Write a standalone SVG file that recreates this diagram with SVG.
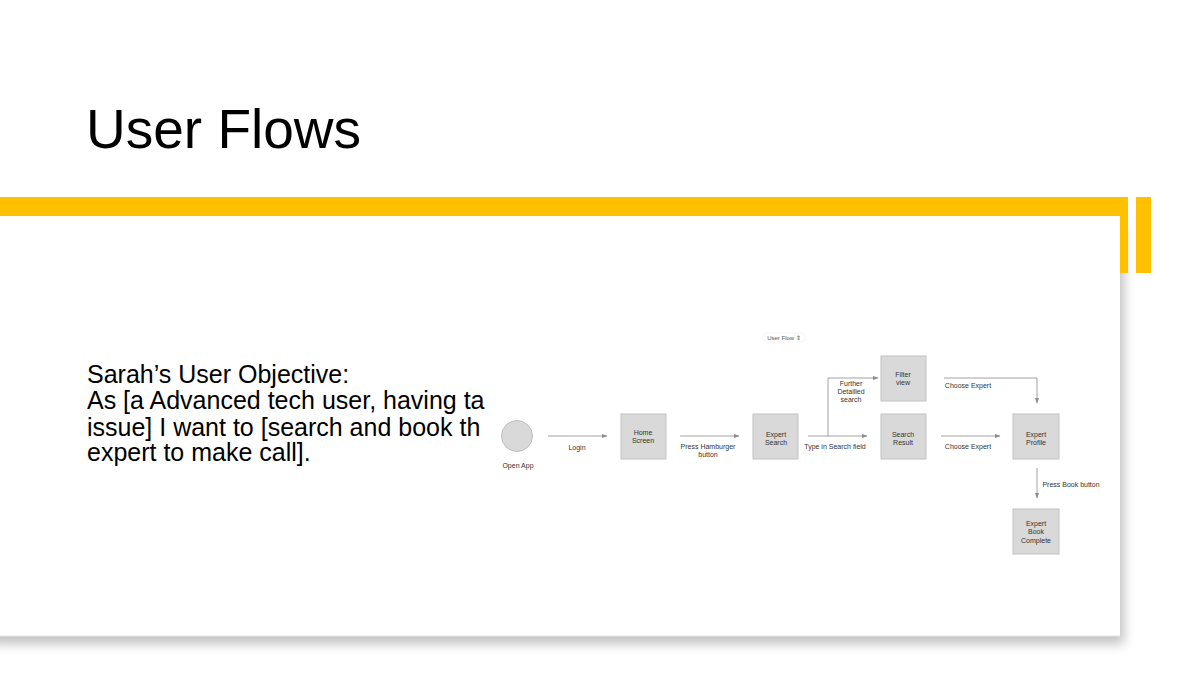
<svg xmlns="http://www.w3.org/2000/svg" width="1200" height="675" viewBox="0 0 1200 675">
  <style>
    .title { font-family: "Liberation Sans", Arial, sans-serif; font-size: 55px; fill: #000; }
    .body { font-family: "Liberation Sans", Arial, sans-serif; font-size: 25px; fill: #000; }
    .box { fill: #d9d9d9; stroke: #c2c2c2; stroke-width: 1; }
    .lbl { font-family: "Liberation Sans", Arial, sans-serif; font-size: 7px; fill: #333; text-anchor: middle; }
    .edge { fill: none; stroke: #8c8c8c; stroke-width: 0.8; }
    .accent { fill: #ffc000; }
  </style>
  <defs>
    <marker id="arrow" viewBox="0 0 6 6" refX="5.5" refY="3" markerWidth="6" markerHeight="6" markerUnits="userSpaceOnUse" orient="auto">
      <path d="M0,0.8 L6,3 L0,5.2 Z" fill="#8c8c8c"/>
    </marker>
    <filter id="shadow" x="-5%" y="-10%" width="110%" height="130%">
      <feGaussianBlur stdDeviation="6"/>
    </filter>
  </defs>

  <rect width="1200" height="675" fill="#ffffff"/>

  <!-- title -->
  <text class="title" x="86" y="148">User Flows</text>

  <!-- card with soft shadow -->
  <rect x="-10" y="226" width="1134" height="418" fill="#000" opacity="0.24" filter="url(#shadow)"/>
  <rect x="0" y="216" width="1120" height="420" fill="#ffffff"/>
  <line x1="0" y1="636" x2="1120" y2="636" stroke="#e6e6e6" stroke-width="1"/>

  <!-- accent bars -->
  <rect class="accent" x="0" y="197" width="1128" height="19"/>
  <rect class="accent" x="1120" y="197" width="8" height="76"/>
  <rect class="accent" x="1136" y="197" width="15" height="76"/>

  <!-- objective text -->
  <g id="objective">
    <text class="body" x="87" y="383">Sarah’s User Objective:</text>
    <text class="body" x="87" y="409">As [a Advanced tech user, having ta</text>
    <text class="body" x="87" y="436">issue] I want to [search and book th</text>
    <text class="body" x="87" y="461">expert to make call].</text>
  </g>

  <!-- flow header -->
  <g id="flow-header">
    <rect x="763" y="333" width="42" height="9" rx="4" fill="none" stroke="#eeeeee" stroke-width="0.6"/>
    <text class="lbl" x="784" y="340" style="font-size:6px; fill:#555">User Flow ⇕</text>
  </g>

  <!-- connectors -->
  <g id="connectors">
    <line class="edge" x1="548" y1="436" x2="607" y2="436" marker-end="url(#arrow)"/>
    <text class="lbl" x="577" y="450">Login</text>

    <line class="edge" x1="680" y1="436" x2="739" y2="436" marker-end="url(#arrow)"/>
    <text class="lbl" x="708" y="449">Press Hamburger</text>
    <text class="lbl" x="708" y="457">button</text>

    <line class="edge" x1="808" y1="436" x2="867" y2="436" marker-end="url(#arrow)"/>
    <text class="lbl" x="835" y="449">Type in Search field</text>

    <polyline class="edge" points="828,436 828,378 878,378" marker-end="url(#arrow)"/>
    <text class="lbl" x="851" y="386">Further</text>
    <text class="lbl" x="851" y="394">Detailled</text>
    <text class="lbl" x="851" y="402">search</text>

    <polyline class="edge" points="944,378 1037,378 1037,403" marker-end="url(#arrow)"/>
    <text class="lbl" x="968" y="388">Choose Expert</text>

    <line class="edge" x1="941" y1="436" x2="1000" y2="436" marker-end="url(#arrow)"/>
    <text class="lbl" x="968" y="449">Choose Expert</text>

    <line class="edge" x1="1037" y1="468" x2="1037" y2="498" marker-end="url(#arrow)"/>
    <text class="lbl" x="1071" y="487">Press Book button</text>
  </g>

  <!-- nodes -->
  <g id="open-app">
    <circle cx="517" cy="436" r="15.5" fill="#d9d9d9" stroke="#b5b5b5" stroke-width="0.8"/>
    <text class="lbl" x="518" y="468">Open App</text>
  </g>

  <g id="home-screen">
    <rect class="box" x="621" y="414" width="45" height="45"/>
    <text class="lbl" x="643" y="435">Home</text>
    <text class="lbl" x="643" y="443">Screen</text>
  </g>

  <g id="expert-search">
    <rect class="box" x="753" y="414" width="45" height="45"/>
    <text class="lbl" x="776" y="437">Expert</text>
    <text class="lbl" x="776" y="445">Search</text>
  </g>

  <g id="filter-view">
    <rect class="box" x="881" y="356" width="45" height="45"/>
    <text class="lbl" x="903" y="377">Filter</text>
    <text class="lbl" x="903" y="385">view</text>
  </g>

  <g id="search-result">
    <rect class="box" x="881" y="414" width="45" height="45"/>
    <text class="lbl" x="903" y="437">Search</text>
    <text class="lbl" x="903" y="445">Result</text>
  </g>

  <g id="expert-profile">
    <rect class="box" x="1013" y="414" width="46" height="45"/>
    <text class="lbl" x="1036" y="437">Expert</text>
    <text class="lbl" x="1036" y="445">Profile</text>
  </g>

  <g id="expert-book-complete">
    <rect class="box" x="1013" y="509" width="46" height="45"/>
    <text class="lbl" x="1036" y="526">Expert</text>
    <text class="lbl" x="1036" y="534">Book</text>
    <text class="lbl" x="1036" y="543">Complete</text>
  </g>
</svg>
